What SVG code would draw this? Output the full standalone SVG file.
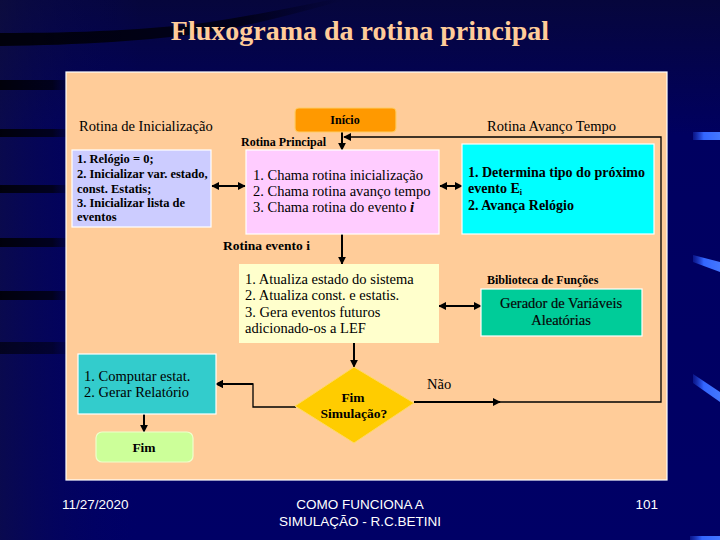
<svg xmlns="http://www.w3.org/2000/svg" width="720" height="540" viewBox="0 0 720 540">
<defs>
<linearGradient id="bg" x1="0" y1="0" x2="0" y2="1">
<stop offset="0" stop-color="#06063c"/>
<stop offset="0.25" stop-color="#000060"/>
<stop offset="1" stop-color="#000066"/>
</linearGradient>
<linearGradient id="leftShade" x1="0" y1="0" x2="1" y2="0">
<stop offset="0" stop-color="#101040" stop-opacity="0.6"/>
<stop offset="1" stop-color="#000066" stop-opacity="0"/>
</linearGradient>
<linearGradient id="darkStripe" x1="0" y1="0" x2="1" y2="0">
<stop offset="0" stop-color="#000008" stop-opacity="0.95"/>
<stop offset="0.7" stop-color="#000010" stop-opacity="0.8"/>
<stop offset="1" stop-color="#000020" stop-opacity="0"/>
</linearGradient>
<linearGradient id="blueStripe" x1="0" y1="0" x2="1" y2="0">
<stop offset="0" stop-color="#2244dd" stop-opacity="0.3"/>
<stop offset="0.4" stop-color="#3366ff"/>
<stop offset="1" stop-color="#4477ff"/>
</linearGradient>
<marker id="ah" viewBox="0 0 10 10" refX="9" refY="5" markerWidth="8" markerHeight="8" markerUnits="userSpaceOnUse" orient="auto-start-reverse">
<path d="M0,0 L10,5 L0,10 Z" fill="#000"/>
</marker>
<style>
.serif{font-family:"Liberation Serif","Times New Roman",serif;fill:#000}
.b{font-weight:bold}
.t12{font-size:12px}
.t125{font-size:12.5px}
.t135{font-size:13.5px}
.t14{font-size:14px}
.t145{font-size:14.5px}
.box{stroke:#ffffff;stroke-width:1.2}
.conn{fill:none;stroke:#000;stroke-width:2}
.thin{fill:none;stroke:#000;stroke-width:1.3}
.foot{font-family:"Liberation Sans",Arial,sans-serif;font-size:13.5px;fill:#ffffff}
</style>
</defs>

<!-- background -->
<rect x="0" y="0" width="720" height="540" fill="url(#bg)"/>
<rect x="0" y="0" width="140" height="540" fill="url(#leftShade)"/>
<path d="M0,33 C80,33 150,30 210,22 C250,16 290,8 330,0 L345,0 C300,12 260,24 210,32 C150,41 80,45 0,46 Z" fill="url(#darkStripe)"/>
<rect x="0" y="80" width="75" height="10" fill="url(#darkStripe)"/>
<rect x="0" y="129" width="75" height="8" fill="url(#darkStripe)"/>
<rect x="0" y="185" width="75" height="8" fill="url(#darkStripe)"/>
<rect x="0" y="238" width="75" height="9" fill="url(#darkStripe)"/>
<rect x="0" y="291" width="75" height="9" fill="url(#darkStripe)"/>
<rect x="0" y="342" width="75" height="12" fill="url(#darkStripe)" opacity="0.7"/>
<rect x="693" y="132" width="27" height="8" fill="url(#blueStripe)"/>
<path d="M693,255 L720,262 L720,272 L693,262 Z" fill="url(#blueStripe)"/>
<path d="M693,374 L720,392 L720,402 L693,383 Z" fill="url(#blueStripe)"/>
<rect x="690" y="536" width="30" height="4" fill="url(#blueStripe)"/>

<!-- title -->
<text x="360" y="40" text-anchor="middle" font-family="'Liberation Serif','Times New Roman',serif" font-size="28" font-weight="bold" fill="#FFCC99">Fluxograma da rotina principal</text>

<!-- panel -->
<rect x="66" y="72" width="601" height="408" fill="#FFCC99" stroke="#ffffff" stroke-width="1.2"/>

<!-- free labels -->
<text class="serif t145" x="79" y="131">Rotina de Inicialização</text>
<text class="serif t145" x="487" y="131">Rotina Avanço Tempo</text>
<text class="serif b t12" x="241" y="146">Rotina Principal</text>
<text class="serif b t135" x="223" y="250">Rotina evento i</text>
<text class="serif b t12" x="487" y="284">Biblioteca de Funções</text>
<text class="serif t145" x="427" y="389">Não</text>

<!-- connectors -->
<g id="connectors">
<line class="conn" x1="342" y1="132" x2="342" y2="150" marker-end="url(#ah)"/>
<polyline class="thin" points="414,402 661,402 661,137 344,137" marker-end="url(#ah)"/>
<line class="conn" x1="414" y1="402" x2="500" y2="402" marker-end="url(#ah)"/>
<line class="conn" x1="212" y1="186" x2="245" y2="186" marker-start="url(#ah)" marker-end="url(#ah)"/>
<line class="conn" x1="440" y1="186" x2="462" y2="186" marker-start="url(#ah)" marker-end="url(#ah)"/>
<line class="conn" x1="342" y1="234" x2="342" y2="264" marker-end="url(#ah)"/>
<line class="conn" x1="439" y1="306" x2="481" y2="306" marker-start="url(#ah)" marker-end="url(#ah)"/>
<line class="conn" x1="354" y1="343" x2="354" y2="367" marker-end="url(#ah)"/>
<polyline class="thin" points="296,407 253,407 253,384 216,384" marker-end="url(#ah)"/>
<line class="conn" x1="253" y1="384" x2="216" y2="384" marker-end="url(#ah)"/>
<line class="conn" x1="144" y1="414" x2="144" y2="432" marker-end="url(#ah)"/>
</g>

<!-- nodes -->
<g id="inicio">
<rect x="295" y="108" width="101" height="24" rx="4" fill="#FF9900" stroke="#FFCC66" stroke-width="1.2"/>
<text class="serif b t12" x="345" y="124" text-anchor="middle">Início</text>
</g>

<g id="inicializacao">
<rect class="box" x="72" y="150" width="139" height="77" fill="#CCCCFF"/>
<text class="serif b t125" x="77" y="163">1. Relógio = 0;</text>
<text class="serif b t125" x="77" y="178">2. Inicializar var. estado,</text>
<text class="serif b t125" x="77" y="193"> const. Estatis;</text>
<text class="serif b t125" x="77" y="207">3. Inicializar lista de</text>
<text class="serif b t125" x="77" y="221">eventos</text>
</g>

<g id="principal">
<rect class="box" x="246" y="150" width="193" height="84" fill="#FFCCFF"/>
<text class="serif t145" x="253" y="180">1. Chama rotina inicialização</text>
<text class="serif t145" x="253" y="196">2. Chama rotina avanço tempo</text>
<text class="serif t145" x="253" y="212">3. Chama rotina do evento <tspan font-style="italic" font-weight="bold">i</tspan></text>
</g>

<g id="avanco">
<rect class="box" x="462" y="144" width="192" height="90" fill="#00FFFF"/>
<text class="serif b t14" x="468" y="177">1. Determina tipo do próximo</text>
<text class="serif b t14" x="468" y="193">evento E<tspan font-size="8" dy="2">i</tspan></text>
<text class="serif b t14" x="468" y="210">2. Avança Relógio</text>
</g>

<g id="evento">
<rect x="239" y="264" width="200" height="79" fill="#FFFFCC"/>
<text class="serif t145" x="245" y="284">1. Atualiza estado do sistema</text>
<text class="serif t145" x="245" y="300">2. Atualiza const. e estatis.</text>
<text class="serif t145" x="245" y="317">3. Gera eventos futuros</text>
<text class="serif t145" x="245" y="333">adicionado-os a LEF</text>
</g>

<g id="gerador">
<rect class="box" x="481" y="289" width="161" height="47" fill="#00CC99"/>
<text class="serif t145" x="561" y="308" text-anchor="middle" fill="#1a1a1a" stroke="#1a1a1a" stroke-width="0.2">Gerador de Variáveis</text>
<text class="serif t145" x="561" y="325" text-anchor="middle" fill="#1a1a1a" stroke="#1a1a1a" stroke-width="0.2">Aleatórias</text>
</g>

<g id="decisao">
<polygon points="354,367 414,403 354,443 295,406" fill="#FFCC00" stroke="#FFD966" stroke-width="1"/>
<text class="serif b t135" x="353" y="402" text-anchor="middle">Fim</text>
<text class="serif b t135" x="354" y="418" text-anchor="middle">Simulação?</text>
</g>

<g id="relatorio">
<rect class="box" x="78" y="354" width="138" height="60" fill="#33CCCC"/>
<text class="serif t145" x="84" y="381">1. Computar estat.</text>
<text class="serif t145" x="84" y="397">2. Gerar Relatório</text>
</g>

<g id="fim">
<rect x="96" y="432" width="97" height="30" rx="6" fill="#CCFF99" stroke="#EEFFCC" stroke-width="1.2"/>
<text class="serif b t135" x="144" y="452" text-anchor="middle">Fim</text>
</g>

<!-- footer -->
<text class="foot" x="62" y="509" font-size="13">11/27/2020</text>
<text class="foot" x="360" y="509" text-anchor="middle">COMO FUNCIONA A</text>
<text class="foot" x="360" y="526" text-anchor="middle">SIMULAÇÃO - R.C.BETINI</text>
<text class="foot" x="658" y="509" text-anchor="end">101</text>
</svg>
